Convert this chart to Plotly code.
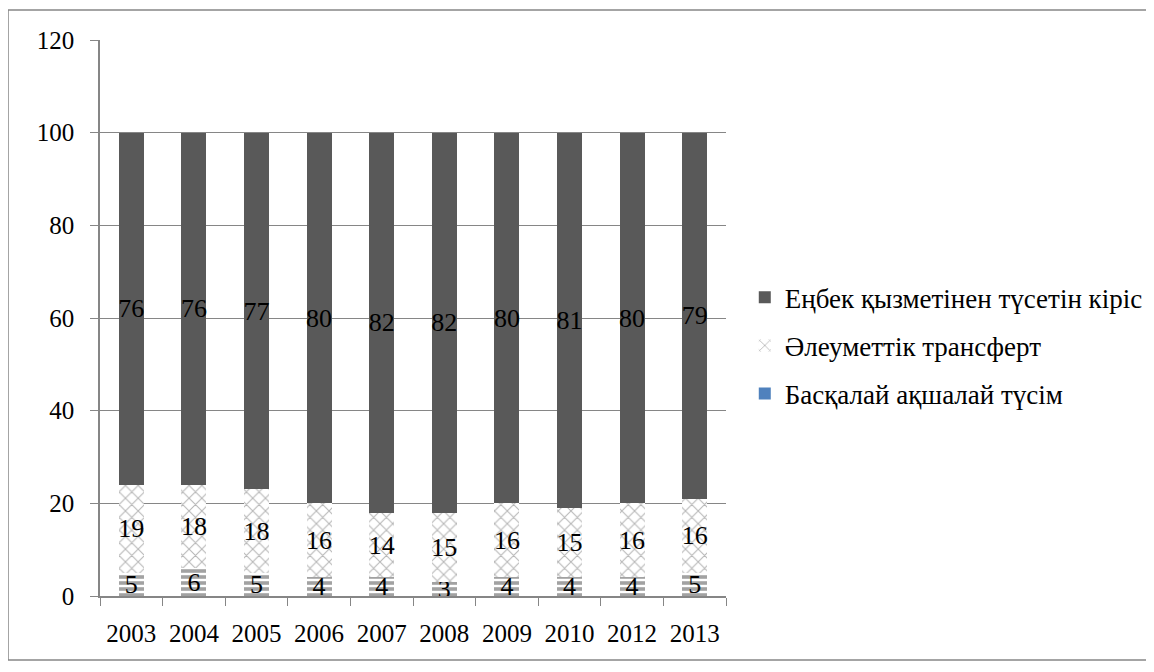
import plotly.graph_objects as go

years = ["2003", "2004", "2005", "2006", "2007", "2008", "2009", "2010", "2012", "2013"]
other_cash = [5, 6, 5, 4, 4, 3, 4, 4, 4, 5]
social_transfer = [19, 18, 18, 16, 14, 15, 16, 15, 16, 16]
labour_income = [76, 76, 77, 80, 82, 82, 80, 81, 80, 79]

name_labour = "Еңбек қызметінен түсетін кіріс"
name_social = "Әлеуметтік трансферт"
name_other = "Басқалай ақшалай түсім"

FONT = "Liberation Serif"
GRID = "#868686"

fig = go.Figure()

fig.add_trace(go.Bar(
    x=years, y=other_cash, name=name_other, showlegend=False,
    marker=dict(color="white", line=dict(width=0),
                pattern=dict(shape="-", fgcolor="#454545", bgcolor="white",
                             size=6, solidity=0.6)),
    text=other_cash, textposition="inside", insidetextanchor="middle",
    constraintext="none", textangle=0, cliponaxis=False,
    textfont=dict(family=FONT, size=26, color="black"),
))
fig.add_trace(go.Bar(
    x=years, y=social_transfer, name=name_social, legendrank=2,
    legendgroup="b",
    marker=dict(color="white", line=dict(width=0),
                pattern=dict(shape="x", fgcolor="#6e6e6e", bgcolor="white",
                             size=9, solidity=0.22)),
    text=social_transfer, textposition="inside", insidetextanchor="middle",
    constraintext="none", textangle=0, cliponaxis=False,
    textfont=dict(family=FONT, size=26, color="black"),
))
fig.add_trace(go.Bar(
    x=years, y=labour_income, name=name_labour, legendrank=1,
    legendgroup="a",
    marker=dict(color="#595959", line=dict(width=0)),
    text=labour_income, textposition="inside", insidetextanchor="middle",
    constraintext="none", textangle=0, cliponaxis=False,
    textfont=dict(family=FONT, size=26, color="black"),
))
# legend entry for the bottom series (shown in blue, as in the source)
fig.add_trace(go.Bar(
    x=[None], y=[None], name=name_other, legendrank=3, legendgroup="c",
    marker=dict(color="#4f81bd", line=dict(width=0)),
))

fig.update_layout(
    width=1154, height=672,
    barmode="stack", bargap=0.6,
    paper_bgcolor="white", plot_bgcolor="white",
    margin=dict(l=92, r=436, t=32, b=84),
    font=dict(family=FONT, size=25, color="black"),
    legend=dict(x=1.03, y=0.45, xanchor="left", yanchor="middle",
                font=dict(family=FONT, size=27, color="black"),
                tracegroupgap=10, itemsizing="constant"),
    showlegend=True,
)
fig.update_yaxes(
    range=[0, 120], dtick=20, showgrid=True, gridcolor=GRID, gridwidth=1,
    showline=True, linecolor=GRID, linewidth=1.5,
    ticks="outside", ticklen=8, tickcolor=GRID, ticklabelstandoff=11,
    zeroline=False, tickfont=dict(family=FONT, size=25, color="black"),
)
fig.update_xaxes(
    showline=True, linecolor=GRID, linewidth=1.5,
    ticks="outside", ticklen=8, tickcolor=GRID, tickson="boundaries",
    ticklabelstandoff=14,
    showgrid=False, tickfont=dict(family=FONT, size=25, color="black"),
)

# outer chart-area border
fig.add_shape(type="rect", xref="paper", yref="paper",
              x0=(8 - 100) / 626, x1=(1150 - 100) / 626,
              y0=(596 - 660) / 556, y1=(596 - 10) / 556,
              line=dict(color=GRID, width=1.5), fillcolor="rgba(0,0,0,0)",
              layer="below")

fig.write_html("out.html")
